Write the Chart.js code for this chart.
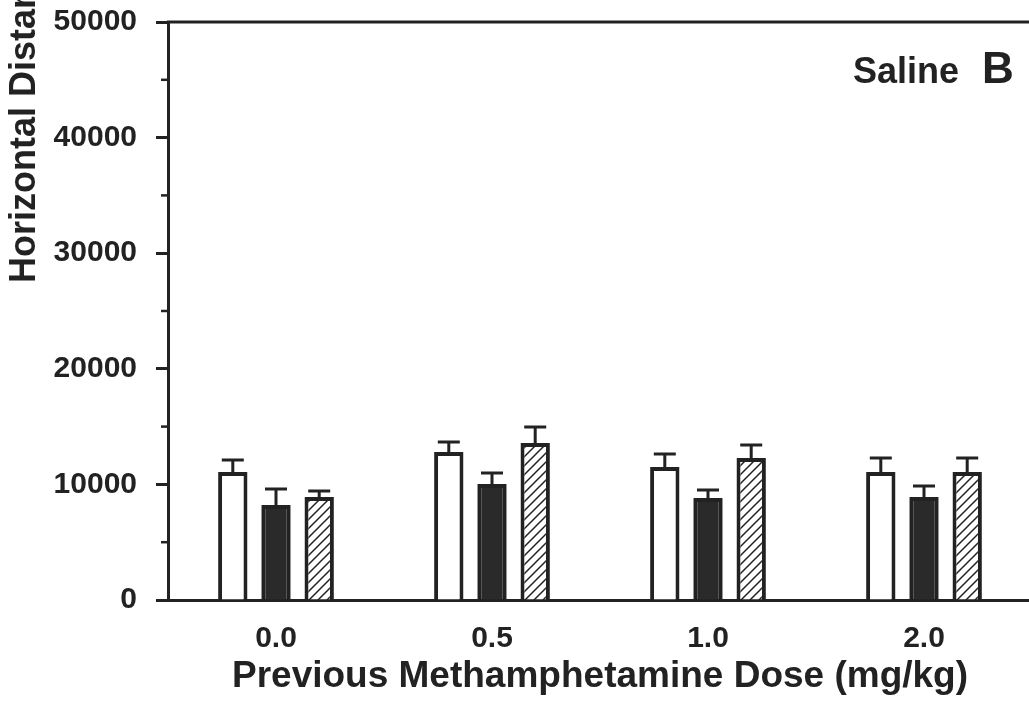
<!DOCTYPE html>
<html>
<head>
<meta charset="utf-8">
<script src="https://cdn.jsdelivr.net/npm/chart.js@4.4.1/dist/chart.umd.min.js"></script>
<style>
  html, body { margin: 0; padding: 0; background: #fff; width: 1029px; height: 705px; overflow: hidden; }
  #wrap { position: absolute; left: 0; top: 0; width: 1040px; height: 705px; }
</style>
</head>
<body>
<div id="wrap"><canvas id="c" width="1040" height="705"></canvas></div>
<script>
// Previous dose groups (x categories)
const doses = ['0.0', '0.5', '1.0', '2.0'];

// Mean horizontal distance per group, three test conditions
const openBars    = [11070, 12800, 11500, 11070];
const solidBars   = [8220, 10030, 8820, 8910];
const hatchedBars = [8910, 13580, 12280, 11070];

// Upward error bars (SEM)
const openErr    = [1040, 870, 1120, 1210];
const solidErr   = [1380, 950, 700, 950];
const hatchedErr = [520, 1380, 1120, 1210];

// Labelled y ticks
const yTicks = [0, 10000, 20000, 30000, 40000, 50000];

const INK = '#222';
const FONT = "'Liberation Sans', Arial, Helvetica, sans-serif";

// Diagonal hatch fill
function hatchPattern() {
  const s = 9;
  const t = document.createElement('canvas');
  t.width = s; t.height = s;
  const g = t.getContext('2d');
  g.fillStyle = '#fff';
  g.fillRect(0, 0, s, s);
  g.strokeStyle = INK;
  g.lineWidth = 1.5;
  g.beginPath();
  g.moveTo(-1, s + 1); g.lineTo(s + 1, -1);
  g.moveTo(-1, 1); g.lineTo(1, -1);
  g.moveTo(s - 1, s + 1); g.lineTo(s + 1, s - 1);
  g.stroke();
  return document.getElementById('c').getContext('2d').createPattern(t, 'repeat');
}

const errorSets = [openErr, solidErr, hatchedErr];

// Upward error bars with caps
const errorBars = {
  id: 'errorBars',
  afterDatasetsDraw(chart) {
    const ctx = chart.ctx;
    const y = chart.scales.y;
    ctx.save();
    ctx.strokeStyle = INK;
    ctx.lineWidth = 3;
    chart.data.datasets.forEach((ds, i) => {
      const meta = chart.getDatasetMeta(i);
      meta.data.forEach((bar, j) => {
        const top = y.getPixelForValue(ds.data[j] + errorSets[i][j]);
        ctx.beginPath();
        ctx.moveTo(bar.x, bar.y);
        ctx.lineTo(bar.x, top);
        ctx.moveTo(bar.x - 11, top);
        ctx.lineTo(bar.x + 11, top);
        ctx.stroke();
      });
    });
    ctx.restore();
  }
};

// Frame top/right edges, minor y ticks, panel text and the y title
const frame = {
  id: 'frame',
  afterDraw(chart) {
    const ctx = chart.ctx;
    const a = chart.chartArea;
    const y = chart.scales.y;
    ctx.save();
    ctx.strokeStyle = INK;
    ctx.lineWidth = 3;
    ctx.beginPath();
    ctx.moveTo(a.left - 1, a.top);
    ctx.lineTo(a.right, a.top);
    ctx.lineTo(a.right, a.bottom);
    ctx.stroke();

    // minor ticks halfway between labelled ticks
    ctx.lineWidth = 2.5;
    const t = y.ticks;
    for (let k = 0; k < t.length - 1; k++) {
      const py = y.getPixelForValue((t[k].value + t[k + 1].value) / 2);
      ctx.beginPath();
      ctx.moveTo(a.left - 7, py);
      ctx.lineTo(a.left, py);
      ctx.stroke();
    }

    ctx.fillStyle = INK;
    ctx.textBaseline = 'alphabetic';
    ctx.textAlign = 'left';
    ctx.font = 'bold 36px ' + FONT;
    ctx.fillText('Saline', a.right - 179, a.top + 61);
    ctx.font = 'bold 44px ' + FONT;
    ctx.fillText('B', a.right - 50, a.top + 61);

    // rotated y-axis title
    ctx.translate(25, 283);
    ctx.rotate(-Math.PI / 2);
    ctx.font = 'bold 36px ' + FONT;
    ctx.textBaseline = 'middle';
    ctx.fillText('Horizontal Distance (cm)', 0, 0);
    ctx.restore();
  }
};

const hatch = hatchPattern();

new Chart(document.getElementById('c'), {
  type: 'bar',
  data: {
    labels: doses,
    datasets: [
      { data: openBars, backgroundColor: '#fff', borderColor: INK, borderWidth: 4 },
      { data: solidBars, backgroundColor: '#2a2a2a', borderColor: INK, borderWidth: 4 },
      { data: hatchedBars, backgroundColor: hatch, borderColor: INK, borderWidth: 4 }
    ]
  },
  options: {
    responsive: false,
    animation: false,
    layout: { padding: { left: 0, top: 22, right: 8, bottom: 0 } },
    datasets: { bar: { categoryPercentage: 0.6, barPercentage: 0.68 } },
    plugins: { legend: { display: false }, tooltip: { enabled: false } },
    scales: {
      x: {
        grid: { display: false, drawTicks: false },
        border: { display: true, color: INK, width: 3 },
        ticks: { color: INK, padding: 21, font: { family: FONT, size: 30, weight: 'bold' } },
        title: {
          display: true,
          text: 'Previous Methamphetamine Dose (mg/kg)',
          color: INK,
          font: { family: FONT, size: 37, weight: 'bold' },
          padding: { top: 0, bottom: 6 }
        },
        afterFit(s) { s.height = 105; s.paddingLeft = 0; s.paddingRight = 0; }
      },
      y: {
        min: yTicks[0],
        max: yTicks[yTicks.length - 1],
        afterBuildTicks(s) { s.ticks = yTicks.map(v => ({ value: v })); },
        grid: { display: true, drawOnChartArea: false, drawTicks: true, tickLength: 12, tickWidth: 3, tickColor: INK },
        border: { display: true, color: INK, width: 3 },
        ticks: {
          color: INK, padding: 19,
          font: { family: FONT, size: 30, weight: 'bold' },
          callback: v => String(v)
        },
        afterFit(s) { s.width = 168; s.paddingTop = 0; s.paddingBottom = 0; }
      }
    }
  },
  plugins: [errorBars, frame]
});
</script>
</body>
</html>
